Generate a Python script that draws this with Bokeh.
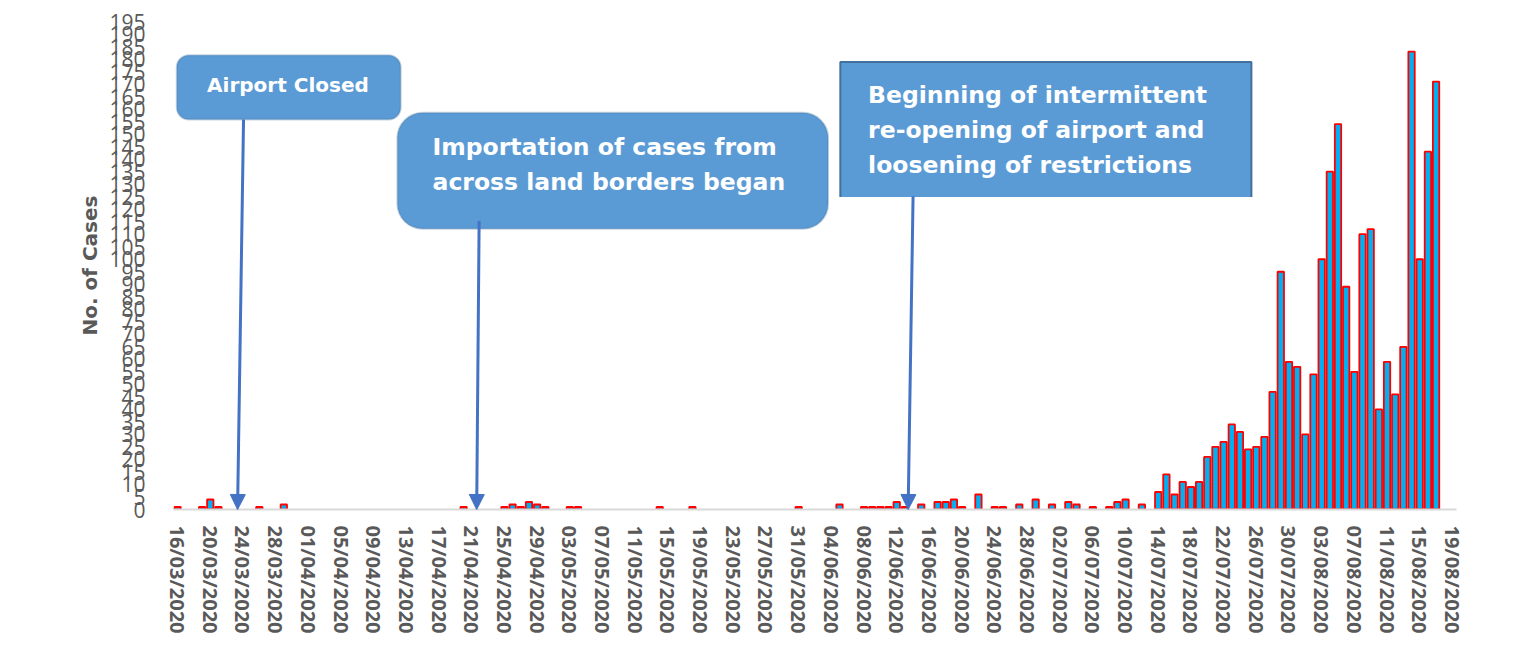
import pandas as pd
from bokeh.plotting import figure
from bokeh.models import (Range1d, FixedTicker, BoxAnnotation, Label, Arrow,
                          NormalHead, ColumnDataSource)
from bokeh.embed import file_html
from bokeh.resources import INLINE

# ---------------- data ----------------
start_date = "2020-03-16"
end_date = "2020-08-19"

cases = [
    1, 0, 0, 1, 4, 1, 0, 0, 0, 0,          # 16/03 - 25/03
    1, 0, 0, 2, 0, 0, 0, 0, 0, 0,          # 26/03 - 04/04
    0, 0, 0, 0, 0, 0, 0, 0, 0, 0,          # 05/04 - 14/04
    0, 0, 0, 0, 0, 1, 0, 0, 0, 0,          # 15/04 - 24/04
    1, 2, 1, 3, 2, 1, 0, 0, 1, 1,          # 25/04 - 04/05
    0, 0, 0, 0, 0, 0, 0, 0, 0, 1,          # 05/05 - 14/05
    0, 0, 0, 1, 0, 0, 0, 0, 0, 0,          # 15/05 - 24/05
    0, 0, 0, 0, 0, 0, 1, 0, 0, 0,          # 25/05 - 03/06
    0, 2, 0, 0, 1, 1, 1, 1, 3, 1,          # 04/06 - 13/06
    0, 2, 0, 3, 3, 4, 1, 0, 6, 0,          # 14/06 - 23/06
    1, 1, 0, 2, 0, 4, 0, 2, 0, 3,          # 24/06 - 03/07
    2, 0, 1, 0, 1, 3, 4, 0, 2, 0,          # 04/07 - 13/07
    7, 14, 6, 11, 9, 11, 21, 25, 27, 34,   # 14/07 - 23/07
    31, 24, 25, 29, 47, 95, 59, 57, 30, 54,  # 24/07 - 02/08
    100, 135, 154, 89, 55, 110, 112, 40, 59, 46,  # 03/08 - 12/08
    65, 183, 100, 143, 171, 0, 0,          # 13/08 - 19/08
]

tick_labels = [
    "16/03/2020", "20/03/2020", "24/03/2020", "28/03/2020", "01/04/2020",
    "05/04/2020", "09/04/2020", "13/04/2020", "17/04/2020", "21/04/2020",
    "25/04/2020", "29/04/2020", "03/05/2020", "07/05/2020", "11/05/2020",
    "15/05/2020", "19/05/2020", "23/05/2020", "27/05/2020", "31/05/2020",
    "04/06/2020", "08/06/2020", "12/06/2020", "16/06/2020", "20/06/2020",
    "24/06/2020", "28/06/2020", "02/07/2020", "06/07/2020", "10/07/2020",
    "14/07/2020", "18/07/2020", "22/07/2020", "26/07/2020", "30/07/2020",
    "03/08/2020", "07/08/2020", "11/08/2020", "15/08/2020", "19/08/2020",
]

y_ticks = list(range(0, 200, 5))

# ---------------- prep ----------------
dates = pd.date_range(start_date, end_date, freq="D")
t0 = dates[0]
day_idx = [(d - t0).days for d in dates]
df = pd.DataFrame({"day": day_idx, "cases": cases[:len(day_idx)]})
df = df[df["cases"] > 0]
src = ColumnDataSource(df)

tick_pos = [(pd.to_datetime(t, format="%d/%m/%Y") - t0).days for t in tick_labels]

FONT = "DejaVu Sans"
AXFONT = "Open Sans"

# ---------------- figure ----------------
p = figure(width=1517, height=636, output_backend="svg", toolbar_location=None,
           x_range=Range1d(-0.5, len(dates) - 0.5), y_range=Range1d(0, 195),
           min_border_left=173, min_border_right=61,
           min_border_top=21, min_border_bottom=123)
p.outline_line_color = None
p.xgrid.grid_line_color = None
p.ygrid.grid_line_color = None
p.background_fill_color = "white"
p.border_fill_color = "white"

p.vbar(x="day", top="cases", width=0.78, source=src,
       fill_color="#00b0f0", line_color="#ff0000", line_width=1.8)

# x axis
xa = p.xaxis[0]
xa.ticker = FixedTicker(ticks=tick_pos)
xa.major_label_overrides = {tp: lab for tp, lab in zip(tick_pos, tick_labels)}
xa.major_label_orientation = "vertical"
xa.major_label_text_font = AXFONT
xa.major_label_text_font_style = "bold"
xa.major_label_text_font_size = "20px"
xa.major_label_text_color = "#595959"
xa.major_label_standoff = 10
xa.axis_line_color = "#d9d9d9"
xa.axis_line_width = 2
xa.major_tick_line_color = None
xa.minor_tick_line_color = None

# y axis
ya = p.yaxis[0]
ya.ticker = FixedTicker(ticks=y_ticks)
ya.major_label_text_font = AXFONT
ya.major_label_text_font_size = "21px"
ya.major_label_text_color = "#595959"
ya.major_label_standoff = 22
ya.axis_line_color = None
ya.major_tick_line_color = None
ya.minor_tick_line_color = None
ya.axis_label = "No. of Cases"
ya.axis_label_text_font = FONT
ya.axis_label_text_font_style = "bold"
ya.axis_label_text_font_size = "20px"
ya.axis_label_text_color = "#595959"
ya.axis_label_standoff = 4

# ---------------- annotations ----------------
box_fill = "#5b9bd5"
box_line = "#41719c"
arrow_col = "#4472c4"
txt_kw = dict(text_color="white", text_font=FONT, text_font_style="bold",
              text_baseline="middle")

# Box 1: Airport Closed
p.add_layout(BoxAnnotation(left=-0.1, right=27.3, bottom=155.8, top=181.5,
                           fill_color=box_fill, fill_alpha=1.0,
                           line_color=box_line, line_width=2, border_radius=12))
p.add_layout(Label(x=13.5, y=169.6, text="Airport Closed", text_align="center",
                   text_font_size="20px", **txt_kw))

# Box 2: Importation
p.add_layout(BoxAnnotation(left=26.9, right=79.6, bottom=112.2, top=158.5,
                           fill_color=box_fill, fill_alpha=1.0,
                           line_color=box_line, line_width=2, border_radius=25))
for yy, t in [(144.7, "Importation of cases from"), (130.8, "across land borders began")]:
    p.add_layout(Label(x=31.2, y=yy, text=t, text_align="left",
                       text_font_size="23.5px", **txt_kw))

# Box 3: Beginning of re-opening (no bottom border)
p.add_layout(BoxAnnotation(left=81.1, right=131.4, bottom=124.9, top=178.8,
                           fill_color=box_fill, fill_alpha=1.0, line_color=None))
p.line(x=[81.1, 81.1, 131.4, 131.4], y=[124.9, 178.8, 178.8, 124.9],
       line_color=box_line, line_width=2, level="overlay")
for yy, t in [(165.7, "Beginning of intermittent"), (151.8, "re-opening of airport and"),
              (137.5, "loosening of restrictions")]:
    p.add_layout(Label(x=84.5, y=yy, text=t, text_align="left",
                       text_font_size="23.5px", **txt_kw))

# Arrows
for xs, ys, xe in [(8.07, 155.8, 7.34), (36.9, 115.3, 36.6), (90.0, 125.2, 89.4)]:
    p.add_layout(Arrow(end=NormalHead(size=15, fill_color=arrow_col, line_color=arrow_col),
                       x_start=xs, y_start=ys, x_end=xe, y_end=0,
                       line_color=arrow_col, line_width=3))

open("out.html", "w").write(file_html(p, INLINE))
